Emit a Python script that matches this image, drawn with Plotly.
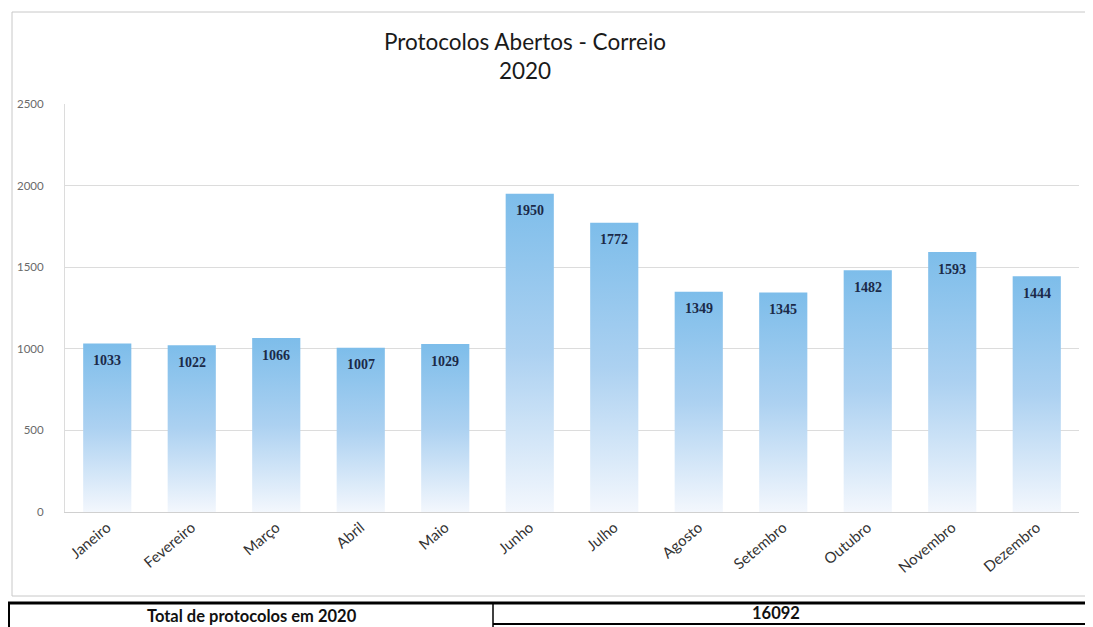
import plotly.graph_objects as go

months = ["Janeiro", "Fevereiro", "Março", "Abril", "Maio", "Junho",
          "Julho", "Agosto", "Setembro", "Outubro", "Novembro", "Dezembro"]
values = [1033, 1022, 1066, 1007, 1029, 1950, 1772, 1349, 1345, 1482, 1593, 1444]
y_ticks = [0, 500, 1000, 1500, 2000, 2500]
total_label = "Total de protocolos em 2020"
total_value = 16092

W, H = 1093, 627
OFF = 8  # page body offset
ML, MR, MT, MB = 65 - OFF, 22, 104 - OFF, 123
PW, PH = W - ML - MR, H - MT - MB

half = 0.285
grad = [[0, "#f3f7fd"], [0.5, "#acd1f1"], [1, "#7dbdea"]]


def px(x):  # screen x -> paper
    return (x - OFF - ML) / PW


def py(y):  # screen y -> paper
    return (H - MB - (y - OFF)) / PH


fig = go.Figure()
for i, v in enumerate(values):
    fig.add_trace(go.Scatter(
        x=[i - half, i + half], y=[v, v], mode="lines",
        line=dict(width=0, color="rgba(0,0,0,0)"),
        fill="tozeroy",
        fillgradient=dict(type="vertical", colorscale=grad),
        name=months[i], hoverinfo="skip", showlegend=False,
    ))

for i, v in enumerate(values):
    fig.add_annotation(
        x=i, y=v, text=str(v), showarrow=False, yshift=-17,
        font=dict(family="Liberation Serif", size=14, color="#1b2a48", weight="bold"),
    )

fig.update_layout(
    width=W, height=H,
    margin=dict(l=ML, r=MR, t=MT, b=MB, autoexpand=False),
    paper_bgcolor="white", plot_bgcolor="white",
    title=dict(
        text="Protocolos Abertos - Correio<br>2020",
        x=(525 - OFF) / W, xanchor="center", xref="container",
        y=(H - 42) / H, yanchor="top", yref="container",
        font=dict(family="Lato", size=22.5, color="#1a1a1a"),
    ),
    xaxis=dict(
        range=[-0.5, 11.5], tickvals=list(range(len(months))), ticktext=months,
        tickangle=-40, showgrid=False, zeroline=False,
        showline=True, linecolor="#d0d0d0", linewidth=1,
        tickfont=dict(family="Lato", size=15, color="#333333"),
    ),
    yaxis=dict(
        range=[0, 2500], tickvals=y_ticks,
        showgrid=True, gridcolor="#dcdcdc", gridwidth=1,
        zeroline=False, showline=True, linecolor="#dcdcdc",
        ticklabelstandoff=18,
        tickfont=dict(family="Lato", size=11.5, color="#6a6a6a"),
    ),
)

# chart outer border
fig.add_shape(type="rect", xref="paper", yref="paper",
              x0=px(12), x1=px(1089), y0=py(596), y1=py(12),
              line=dict(color="#c8c8c8", width=1), fillcolor="rgba(0,0,0,0)", layer="below")

# table at bottom
fig.add_shape(type="line", xref="paper", yref="paper", x0=px(8), x1=px(1101), y0=py(603), y1=py(603),
              line=dict(color="black", width=3))
fig.add_shape(type="line", xref="paper", yref="paper", x0=px(493), x1=px(1101), y0=py(624), y1=py(624),
              line=dict(color="black", width=2))
fig.add_shape(type="line", xref="paper", yref="paper", x0=px(9), x1=px(9), y0=py(603), y1=py(640),
              line=dict(color="black", width=2))
fig.add_shape(type="line", xref="paper", yref="paper", x0=px(493), x1=px(493), y0=py(603), y1=py(640),
              line=dict(color="black", width=1.5))
fig.add_annotation(xref="paper", yref="paper", x=px(252), y=py(616), text=total_label,
                   xanchor="center", yanchor="middle",
                   showarrow=False, font=dict(family="Lato", size=16.5, color="#111", weight="bold"))
fig.add_annotation(xref="paper", yref="paper", x=px(776), y=py(613), text=str(total_value),
                   xanchor="center", yanchor="middle",
                   showarrow=False, font=dict(family="Lato", size=16.5, color="#111", weight="bold"))

fig.write_html("out.html")
